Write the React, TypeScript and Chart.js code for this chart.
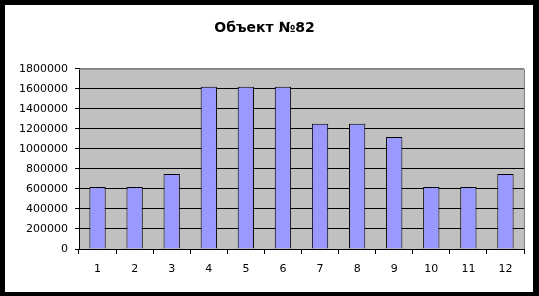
import React, { useEffect, useRef } from "react";
import { Chart, registerables } from "chart.js";

Chart.register(...registerables);

const categories = ["1", "2", "3", "4", "5", "6", "7", "8", "9", "10", "11", "12"];
const values = [620000, 620000, 750000, 1620000, 1620000, 1620000, 1250000, 1250000, 1120000, 620000, 620000, 750000];
const titleText = "Объект №82";
const yMax = 1800000;
const yStep = 200000;

const plotBg = {
  id: "plotBg",
  beforeDraw(chart: any) {
    const { ctx, chartArea } = chart;
    if (!chartArea) return;
    ctx.save();
    ctx.fillStyle = "#C0C0C0";
    ctx.fillRect(chartArea.left, chartArea.top, chartArea.right - chartArea.left, chartArea.bottom - chartArea.top);
    ctx.restore();
  },
  afterDatasetsDraw(chart: any) {
    const { ctx, chartArea } = chart;
    ctx.save();
    ctx.strokeStyle = "#808080";
    ctx.lineWidth = 1;
    ctx.beginPath();
    ctx.moveTo(chartArea.left, chartArea.top + 0.5);
    ctx.lineTo(chartArea.right + 0.5, chartArea.top + 0.5);
    ctx.lineTo(chartArea.right + 0.5, chartArea.bottom);
    ctx.stroke();
    ctx.restore();
  },
};

export default function App() {
  const ref = useRef<HTMLCanvasElement>(null);
  useEffect(() => {
    const font = "'DejaVu Sans', Arial, sans-serif";
    const chart = new Chart(ref.current!, {
      type: "bar",
      data: {
        labels: categories,
        datasets: [
          {
            data: values,
            backgroundColor: "#9999FF",
            borderColor: "#000000",
            borderWidth: 1,
            barPercentage: 0.44,
            categoryPercentage: 1,
          },
        ],
      },
      options: {
        animation: false,
        responsive: false,
        devicePixelRatio: 1,
        layout: { padding: { left: 0, right: 9, top: 0, bottom: 0 } },
        plugins: {
          legend: { display: false },
          tooltip: { enabled: false },
          title: {
            display: true,
            text: titleText,
            color: "#000",
            font: { family: font, size: 14, weight: "bold" },
            padding: { top: 15, bottom: 32 },
          },
        },
        scales: {
          x: {
            offset: true,
            grid: {
              offset: true,
              drawOnChartArea: false,
              drawTicks: true,
              tickLength: 5,
              color: "#000",
            },
            border: { color: "#000", width: 1 },
            ticks: { color: "#000", font: { family: font, size: 11 }, padding: 9, maxRotation: 0 },
            afterFit(scale: any) {
              scale.height = 43;
            },
          },
          y: {
            min: 0,
            max: yMax,
            grid: {
              color: (c: any) => (c.tick && c.tick.value === yMax ? "#808080" : "#000"),
              tickColor: "#000",
              tickLength: 4,
            },
            border: { color: "#000", width: 1 },
            ticks: {
              stepSize: yStep,
              color: "#000",
              font: { family: font, size: 11 },
              padding: 7,
              callback: (v: any) => String(v),
            },
            afterFit(scale: any) {
              scale.width = 74;
            },
          },
        },
      },
      plugins: [plotBg],
    });
    return () => chart.destroy();
  }, []);
  return (
    <div style={{ position: "fixed", left: 0, top: 0, width: 539, height: 296, background: "#000" }}>
      <div style={{ position: "absolute", left: 5, top: 5, width: 528, height: 287, background: "#fff" }}>
        <canvas ref={ref} width={528} height={287} style={{ display: "block" }} />
      </div>
    </div>
  );
}
